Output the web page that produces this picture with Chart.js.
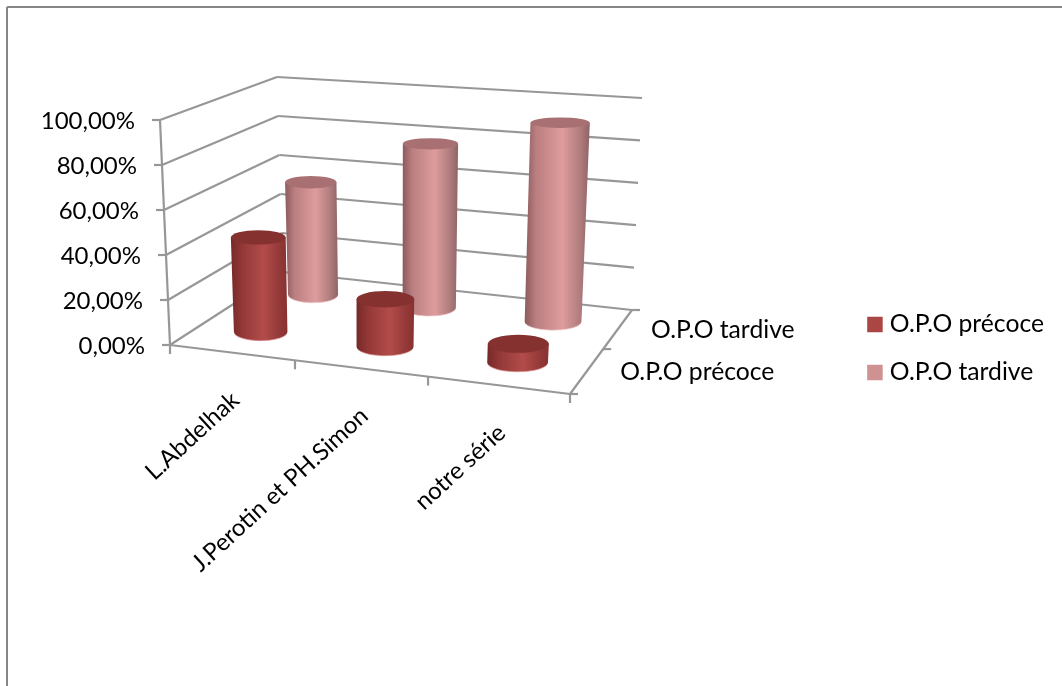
<!DOCTYPE html>
<html>
<head>
<meta charset="utf-8">
<style>
  html, body { margin: 0; padding: 0; background: #fff; overflow: hidden; }
  #chart { display: block; }
</style>
<script src="https://cdn.jsdelivr.net/npm/chart.js@4/dist/chart.umd.min.js"></script>
</head>
<body>
<div style="width:1062px;height:686px"><canvas id="chart" width="1062" height="686"></canvas></div>
<script>
// DATA
var categories = ['L.Abdelhak', 'J.Perotin et PH.Simon', 'notre série'];
var seriesNames = ['O.P.O précoce', 'O.P.O tardive'];
var precoce = [43, 21, 8];
var tardive = [55, 78, 92];
var yTicks = [0, 20, 40, 60, 80, 100];
var yTickLabels = ['0,00%', '20,00%', '40,00%', '60,00%', '80,00%', '100,00%'];

// 3D box corners on screen: [along categories][along series][height]
var BOX = {
  c000: [170, 345], c001: [160, 120],
  c100: [570, 394], c101: [584, 149],
  c010: [283, 272], c011: [277, 77],
  c110: [632, 310], c111: [642, 98]
};

var AXIS_FONT = '24px Lato, sans-serif';
var NAME_FONT = '24.7px Lato, sans-serif';
var GRID = '#979797';

// perspective squeeze along one axis
function warp(t, k) {
  return t / (t + (1 - t) * k);
}

function mix(a, b, t) {
  return [a[0] + (b[0] - a[0]) * t, a[1] + (b[1] - a[1]) * t];
}

// u = categories, d = depth (0 front, 1 back), h = height, all 0..1
function project(u, d, h) {
  var uu = warp(u, 1.1);
  var dd = warp(d, 0.87);
  var bottom = mix(mix(BOX.c000, BOX.c100, uu), mix(BOX.c010, BOX.c110, uu), dd);
  var top = mix(mix(BOX.c001, BOX.c101, uu), mix(BOX.c011, BOX.c111, uu), dd);
  return mix(bottom, top, h);
}

function line(ctx, a, b) {
  ctx.beginPath();
  ctx.moveTo(a[0], a[1]);
  ctx.lineTo(b[0], b[1]);
  ctx.stroke();
}

var CYL = [
  {
    stops: [[0, '#752928'], [0.2, '#933837'], [0.58, '#b24c4a'], [0.85, '#943a39'], [1, '#883130']],
    top: '#843130', rim: 'rgba(217,138,136,0.7)'
  },
  {
    stops: [[0, '#8c5a5c'], [0.18, '#bb7f81'], [0.58, '#de9c9d'], [0.85, '#b07c7d'], [1, '#8f6466']],
    top: '#a87072', rim: 'rgba(243,205,205,0.7)'
  }
];

function drawCylinder(ctx, u, d, h, style) {
  var r = 0.074;
  var b = project(u, d, 0);
  var t = project(u, d, h);
  var rxB = (project(u + r, d, 0)[0] - project(u - r, d, 0)[0]) / 2;
  var rxT = (project(u + r, d, h)[0] - project(u - r, d, h)[0]) / 2;
  var ryB = 5.3 + (b[1] - 125) * 0.017;
  var ryT = 5.3 + (t[1] - 125) * 0.017;

  var x0 = Math.min(b[0] - rxB, t[0] - rxT);
  var x1 = Math.max(b[0] + rxB, t[0] + rxT);
  var grad = ctx.createLinearGradient(x0, 0, x1, 0);
  style.stops.forEach(function (s) { grad.addColorStop(s[0], s[1]); });

  ctx.beginPath();
  ctx.moveTo(t[0] - rxT, t[1]);
  ctx.lineTo(b[0] - rxB, b[1]);
  ctx.ellipse(b[0], b[1], rxB, ryB, 0, Math.PI, 0, true);
  ctx.lineTo(t[0] + rxT, t[1]);
  ctx.closePath();
  ctx.fillStyle = grad;
  ctx.fill();

  // light rim along the foot
  ctx.beginPath();
  ctx.ellipse(b[0], b[1], rxB, ryB, 0, Math.PI * 0.9, Math.PI * 0.1, true);
  ctx.strokeStyle = style.rim;
  ctx.lineWidth = 1;
  ctx.stroke();

  ctx.beginPath();
  ctx.ellipse(t[0], t[1], rxT, ryT, 0, 0, Math.PI * 2);
  ctx.fillStyle = style.top;
  ctx.fill();
}

var box3d = {
  id: 'box3d',
  // outer frame, walls, floor and ticks
  beforeDatasetsDraw: function (chart) {
    var ctx = chart.ctx;
    var y = chart.scales.y;
    ctx.save();

    ctx.strokeStyle = '#868686';
    ctx.lineWidth = 2;
    line(ctx, [7, 7], [1062, 7]);
    line(ctx, [7, 7], [7, 686]);

    ctx.strokeStyle = GRID;
    ctx.lineWidth = 2.2;
    yTicks.forEach(function (v) {
      var h = (y.bottom - y.getPixelForValue(v)) / (y.bottom - y.top);
      var a = project(0, 0, h);
      var b = project(0, 1, h);
      var c = project(1, 1, h);
      line(ctx, a, b);
      line(ctx, b, c);
      line(ctx, a, [a[0] - 8, a[1]]);
    });
    line(ctx, project(0, 0, 0), project(0, 0, 1));
    line(ctx, project(0, 0, 0), project(1, 0, 0));
    line(ctx, project(1, 0, 0), project(1, 1, 0));

    for (var i = 0; i <= categories.length; i++) {
      var p = project(i / categories.length, 0, 0);
      line(ctx, p, [p[0], p[1] + 9]);
    }
    for (var j = 0; j <= seriesNames.length; j++) {
      var q = project(1, j / seriesNames.length, 0);
      line(ctx, q, [q[0] + 8, q[1]]);
    }
    ctx.restore();
  },
  // each bar element becomes a cylinder standing on the floor
  beforeDatasetDraw: function (chart, args) {
    var area = chart.chartArea;
    var i = args.index;
    var d = (i + 0.5) / seriesNames.length;
    chart.getDatasetMeta(i).data.forEach(function (el) {
      var u = (el.x - area.left) / (area.right - area.left);
      var h = (area.bottom - el.y) / (area.bottom - area.top);
      drawCylinder(chart.ctx, u, d, h, CYL[i]);
    });
    return false;
  },
  // axis texts follow the slanted box edges
  afterDraw: function (chart) {
    var ctx = chart.ctx;
    var y = chart.scales.y;
    ctx.save();
    ctx.font = AXIS_FONT;
    ctx.fillStyle = '#000';
    ctx.textBaseline = 'middle';

    ctx.textAlign = 'right';
    yTicks.forEach(function (v, i) {
      var h = (y.bottom - y.getPixelForValue(v)) / (y.bottom - y.top);
      var p = project(0, 0, h);
      ctx.fillText(yTickLabels[i], p[0] - 25, p[1] + 1);
    });

    categories.forEach(function (name, i) {
      var p = project((i + 0.5) / categories.length, 0, 0);
      ctx.save();
      ctx.translate(p[0] + 4, p[1] + 44);
      ctx.rotate(-42.5 * Math.PI / 180);
      ctx.fillText(name, 0, 0);
      ctx.restore();
    });

    ctx.font = NAME_FONT;
    ctx.textAlign = 'left';
    seriesNames.forEach(function (name, i) {
      var p = project(1, (i + 0.5) / seriesNames.length, 0);
      ctx.fillText(name, p[0] + 33, p[1] + 1);
    });
    ctx.restore();
  }
};

var ctx = document.getElementById('chart');
var chart = new Chart(ctx, {
  type: 'bar',
  plugins: [box3d],
  data: {
    labels: categories,
    datasets: [
      { label: seriesNames[0], data: precoce, backgroundColor: '#aa4644' },
      { label: seriesNames[1], data: tardive, backgroundColor: '#d09192' }
    ]
  },
  options: {
    responsive: false,
    animation: false,
    layout: { padding: { right: 8, top: 11 } },
    datasets: { bar: { grouped: false } },
    scales: {
      x: { display: false, offset: true },
      y: { display: false, min: 0, max: 100 }
    },
    plugins: {
      tooltip: { enabled: false },
      legend: {
        position: 'right',
        labels: {
          font: { family: 'Lato, sans-serif', size: 24.7 },
          color: '#000',
          usePointStyle: true,
          pointStyle: 'rect',
          boxWidth: 5,
          boxHeight: 15.5,
          padding: 23.3
        }
      }
    }
  }
});
</script>
</body>
</html>
